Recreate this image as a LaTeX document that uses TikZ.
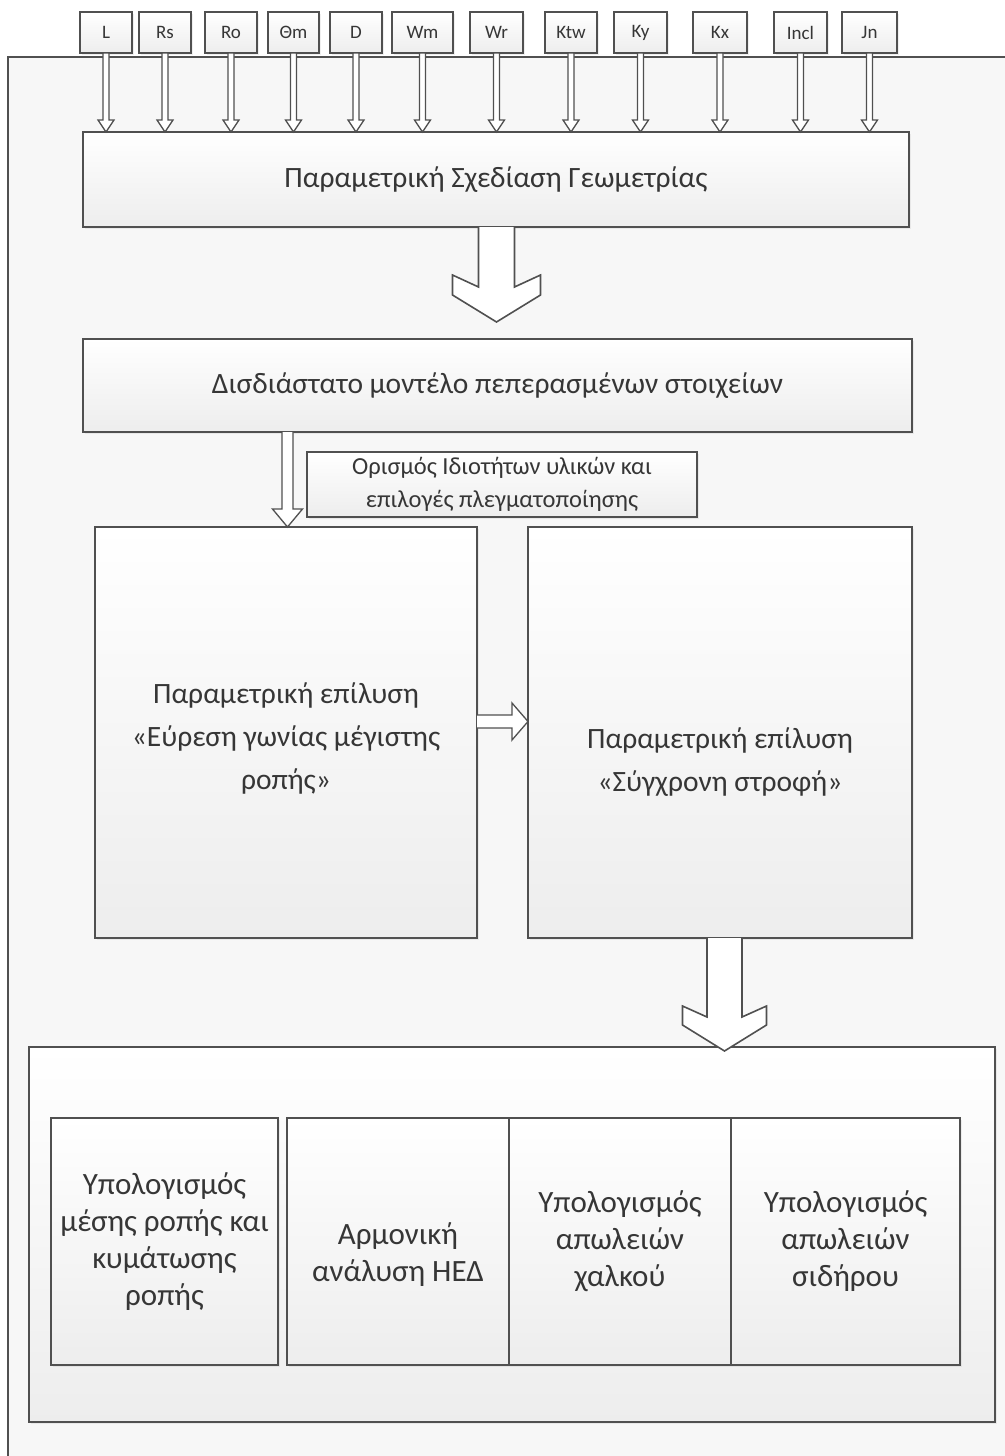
\documentclass[tikz,border=0pt]{standalone}
\usepackage{fontspec}
\setmainfont{Carlito}
\usetikzlibrary{calc,shadows}
\definecolor{edge}{HTML}{505050}
\definecolor{txt}{HTML}{363636}
\tikzset{
  box/.style={draw=edge, line width=1.6pt, top color=white, bottom color=black!7,
    inner sep=0pt, outer sep=0pt, text=txt, align=center,
    drop shadow={shadow xshift=2pt, shadow yshift=-2pt, opacity=0.12}},
  parbox/.style={box, font=\fontsize{19}{22}\selectfont},
  lbl/.style={text=txt, align=center, inner sep=0pt},
  fbig/.style={font=\fontsize{29.5}{36}\selectfont},
  fmid/.style={font=\fontsize{29.5}{43}\selectfont},
  fres/.style={font=\fontsize{31}{37}\selectfont},
  fmat/.style={font=\fontsize{24.5}{33}\selectfont},
  arr/.style={draw=edge, line width=1.3pt, fill=white, line join=miter},
}
\newcommand\boxat[7]{% name, x1, y1, x2, y2, style, text
  \node[box, #6, minimum width=#4-#2, minimum height=#5-#3] (#1) at ({(#2+#4)/2},{(#3+#5)/2}) {#7};}
\newcommand\parat[4]{% name, x1, x2, text
  \node[parbox, minimum width=#3-#2, minimum height=41] (#1) at ({(#2+#3)/2},32.5) {#4};}
\newcommand\thinarr[2]{%
  \draw[arr] ($(#1.south)+(-3,0)$) -- ($(#1.south|-#2.north)+(-3,-12)$) -- ($(#1.south|-#2.north)+(-8,-12)$)
    -- (#1.south|-#2.north) -- ($(#1.south|-#2.north)+(8,-12)$) -- ($(#1.south|-#2.north)+(3,-12)$)
    -- ($(#1.south)+(3,0)$) -- cycle;}
\begin{document}
\begin{tikzpicture}[x=1pt,y=-1pt]
\useasboundingbox (0,0) rectangle (1004,1456);
\fill[white] (0,0) rectangle (1004,1456);
% outer frame
\fill[black!3] (8,57) rectangle (1010,1462);
\draw[edge, line width=1.4pt] (8,1462) -- (8,57) -- (1010,57);
% parameters
\parat{pL}{80}{132}{L}
\parat{pRs}{139}{191}{Rs}
\parat{pRo}{205}{257}{Ro}
\parat{pTh}{268}{319}{Θm}
\parat{pD}{330}{382}{D}
\parat{pWm}{392}{453}{Wm}
\parat{pWr}{470}{523}{Wr}
\parat{pKtw}{545}{597}{Ktw}
\parat{pKy}{614}{667}{Ky}
\parat{pKx}{693}{747}{Kx}
\parat{pIncl}{774}{827}{Incl}
\parat{pJn}{842}{897}{Jn}
% main boxes
\boxat{geo}{83}{132}{909}{227}{fbig}{Παραμετρική Σχεδίαση Γεωμετρίας}
\boxat{fem}{83}{339}{912}{432}{fbig}{Δισδιάστατο μοντέλο πεπερασμένων στοιχείων}
\boxat{mat}{307}{452}{697}{517}{fmat}{Ορισμός Ιδιοτήτων υλικών και\\ επιλογές πλεγματοποίησης}
\boxat{left}{95}{527}{477}{938}{fmid}{}
\node[lbl, fmid] (leftt) at (286,738) {Παραμετρική επίλυση\\ «Εύρεση γωνίας μέγιστης\\ ροπής»};
\boxat{right}{528}{527}{912}{938}{fmid}{}
\node[lbl, fmid] (rightt) at (720,762) {Παραμετρική επίλυση\\ «Σύγχρονη στροφή»};
\boxat{res}{29}{1047}{995}{1422}{}{}
\boxat{b1}{51}{1118}{278}{1365}{fres}{Υπολογισμός\\ μέσης ροπής και\\ κυμάτωσης\\ ροπής}
\boxat{b2}{287}{1118}{509}{1365}{fres}{}
\node[lbl, fres] (b2t) at (398,1255) {Αρμονική\\ ανάλυση ΗΕΔ};
\boxat{b3}{509}{1118}{731}{1365}{fres}{Υπολογισμός\\ απωλειών\\ χαλκού}
\boxat{b4}{731}{1118}{960}{1365}{fres}{Υπολογισμός\\ απωλειών\\ σιδήρου}
% thin input arrows
\foreach \p in {pL,pRs,pRo,pTh,pD,pWm,pWr,pKtw,pKy,pKx,pIncl,pJn}{\thinarr{\p}{geo}}
% big arrow geo -> fem
\coordinate (t1) at (496.5,322);
\draw[arr, line width=1.6pt] ($(geo.south-|t1)+(-18,0)$) -- ($(t1)+(-18,-35)$) -- ($(t1)+(-44,-47)$) -- ($(t1)+(-44,-27)$)
  -- (t1) -- ($(t1)+(44,-27)$) -- ($(t1)+(44,-47)$) -- ($(t1)+(18,-35)$) -- ($(geo.south-|t1)+(18,0)$);
% arrow fem -> left
\coordinate (t2) at (287.5,527);
\draw[arr] ($(fem.south-|t2)+(-5.5,0)$) -- ($(t2)+(-5.5,-18)$) -- ($(t2)+(-15,-18)$) -- (t2 |- left.north)
  -- ($(t2)+(15,-18)$) -- ($(t2)+(5.5,-18)$) -- ($(fem.south-|t2)+(5.5,0)$);
% arrow left -> right
\coordinate (t3) at (528,721.5);
\draw[arr] ($(left.east|-t3)+(0,-6.5)$) -- ($(t3)+(-16,-6.5)$) -- ($(t3)+(-16,-18.5)$) -- (right.west|-t3)
  -- ($(t3)+(-16,18.5)$) -- ($(t3)+(-16,6.5)$) -- ($(left.east|-t3)+(0,6.5)$);
% big arrow right -> results
\coordinate (t4) at (724.5,1051);
\draw[arr, line width=1.6pt] ($(right.south-|t4)+(-17.5,0)$) -- ($(t4)+(-17.5,-34)$) -- ($(t4)+(-42,-45)$) -- ($(t4)+(-42,-26)$)
  -- (t4) -- ($(t4)+(42,-26)$) -- ($(t4)+(42,-45)$) -- ($(t4)+(17.5,-34)$) -- ($(right.south-|t4)+(17.5,0)$);
\end{tikzpicture}
\end{document}
